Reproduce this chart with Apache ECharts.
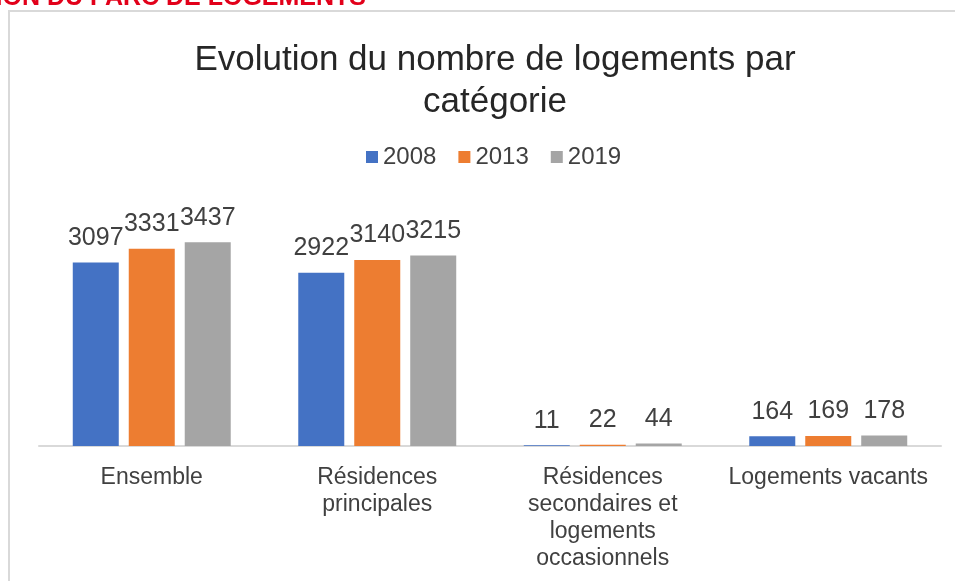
<!DOCTYPE html>
<html>
<head>
<meta charset="utf-8">
<script src="https://cdn.jsdelivr.net/npm/echarts@6/dist/echarts.min.js"></script>
<style>
  html, body { margin: 0; padding: 0; background: #ffffff; }
  #chart { width: 955px; height: 581px; }
</style>
</head>
<body>
<div id="chart"></div>
<script>
// Housing stock by category, three census years
const categories = [
  'Ensemble',
  'Résidences\nprincipales',
  'Résidences\nsecondaires et\nlogements\noccasionnels',
  'Logements vacants'
];
const years = ['2008', '2013', '2019'];
const values2008 = [3097, 2922, 11, 164];
const values2013 = [3331, 3140, 22, 169];
const values2019 = [3437, 3215, 44, 178];
const colors = ['#4472c4', '#ed7d31', '#a5a5a5'];

const seriesValues = [values2008, values2013, values2019];
const labelFont = '"Liberation Sans", Arial, sans-serif';

const chart = echarts.init(document.getElementById('chart'), null, { renderer: 'canvas' });

chart.setOption({
  animation: false,
  backgroundColor: '#ffffff',
  title: {
    text: 'Evolution du nombre de logements par\ncatégorie',
    left: 490,
    top: 34,
    textAlign: 'center',
    textStyle: {
      fontFamily: labelFont,
      fontWeight: 'normal',
      fontSize: 35,
      lineHeight: 42,
      color: '#262626'
    }
  },
  legend: {
    data: years,
    left: 366,
    top: 145,
    padding: 0,
    itemWidth: 12,
    itemHeight: 12,
    itemGap: 22,
    icon: 'rect',
    textStyle: {
      fontFamily: labelFont,
      fontSize: 24,
      color: '#404040',
      padding: [0, 0, 0, 0]
    }
  },
  grid: {
    left: 39,
    right: 14,
    top: 209,
    height: 237,
    containLabel: false
  },
  xAxis: {
    type: 'category',
    data: categories,
    axisLine: { lineStyle: { color: '#d9d9d9', width: 2 } },
    axisTick: { show: false },
    axisLabel: {
      interval: 0,
      margin: 18,
      fontFamily: labelFont,
      fontSize: 23,
      lineHeight: 27,
      color: '#404040'
    }
  },
  yAxis: {
    type: 'value',
    min: 0,
    max: 4000,
    show: false,
    splitLine: { show: false }
  },
  series: years.map((y, i) => ({
    name: y,
    type: 'bar',
    data: seriesValues[i],
    barWidth: 46,
    barGap: '21.7%',
    itemStyle: { color: colors[i] },
    label: {
      show: true,
      position: 'top',
      distance: 12,
      fontFamily: labelFont,
      fontSize: 25,
      color: '#404040'
    }
  })),
  graphic: [
    {
      type: 'rect',
      shape: { x: 9, y: 11, width: 1200, height: 1200 },
      style: { fill: 'none', stroke: '#d9d9d9', lineWidth: 2 },
      silent: true,
      z: -1
    },
    {
      type: 'text',
      right: 589,
      top: -14,
      style: {
        text: 'ÉVOLUTION DU PARC DE LOGEMENTS',
        fontFamily: labelFont,
        fontWeight: 'bold',
        fontSize: 25,
        fill: '#e2001a'
      },
      silent: true
    }
  ]
});
</script>
</body>
</html>
